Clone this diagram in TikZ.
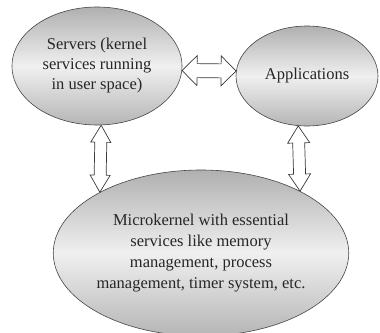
\documentclass[tikz,border=0pt]{standalone}
\usepackage{fontspec}
\setmainfont{Liberation Serif}
\usetikzlibrary{shapes.geometric,calc}

\tikzset{
  blob/.style={ellipse, draw=gray!55!black, line width=0.6pt, inner sep=0pt,
    shading=axis, top color=gray!62, bottom color=gray!58, middle color=gray!12,
    align=center, text=black!85},
  arrowline/.style={draw=gray!45!black, line width=0.7pt, fill=white, line join=miter}
}

% hollow two-headed block arrow between tips #1 and #2;
% #3 half shaft width, #4 half head width, #5 head length
\newcommand{\hollowarrow}[5]{%
  \draw[arrowline] (#1)
    -- ($(#1)!#5!(#2)!#4!90:(#2)$)
    -- ($(#1)!#5!(#2)!#3!90:(#2)$)
    -- ($(#2)!#5!(#1)!#3!-90:(#1)$)
    -- ($(#2)!#5!(#1)!#4!-90:(#1)$)
    -- (#2)
    -- ($(#2)!#5!(#1)!#4!90:(#1)$)
    -- ($(#2)!#5!(#1)!#3!90:(#1)$)
    -- ($(#1)!#5!(#2)!#3!-90:(#2)$)
    -- ($(#1)!#5!(#2)!#4!-90:(#2)$)
    -- cycle;}

\begin{document}
\begin{tikzpicture}[x=1pt,y=-1pt]
  \useasboundingbox (0,0) rectangle (380,332);
  \clip (0,0) rectangle (380,332);

  \node[blob, minimum width=170pt, minimum height=118pt,
        font=\fontsize{16.5}{20}\selectfont] (S) at (97,66)
    {Servers (kernel\\services running\\in user space)};
  \node[blob, minimum width=142pt, minimum height=100pt,
        font=\fontsize{16.5}{20}\selectfont] (A) at (307,76)
    {Applications};
  \node[blob, minimum width=288pt, minimum height=166pt,
        font=\fontsize{16.5}{21}\selectfont] (M) at (201,253)
    {Microkernel with essential\\services like memory\\management, process\\management, timer system, etc.};

  \hollowarrow{S.-3}{A.176}{7pt}{15pt}{15pt}
  \hollowarrow{S.-86}{M.149}{6pt}{10pt}{17pt}
  \hollowarrow{A.-100}{M.32}{6pt}{11pt}{17pt}
\end{tikzpicture}
\end{document}
